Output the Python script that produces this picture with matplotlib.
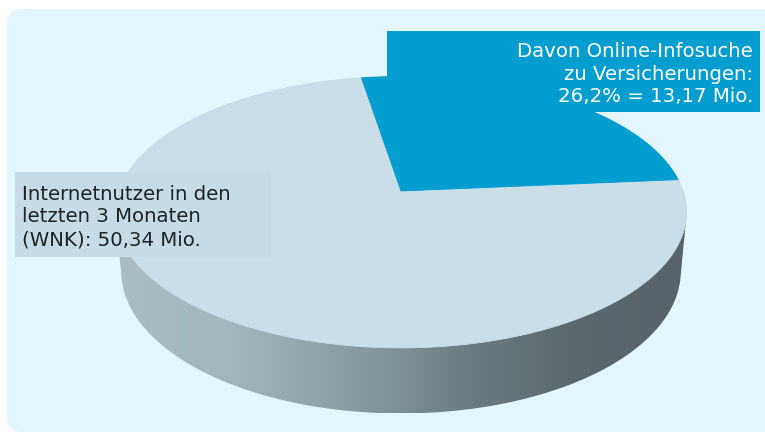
import numpy as np
import matplotlib
matplotlib.use("Agg")
import matplotlib.pyplot as plt
from matplotlib.patches import Polygon, FancyBboxPatch, Rectangle
from matplotlib.colors import LinearSegmentedColormap

# --- data -----------------------------------------------------------------
segment_names = ["Davon Online-Infosuche zu Versicherungen", "Übrige Internetnutzer"]
segment_shares = [26.2, 73.8]          # percent of all internet users
internet_users_mio = 50.34             # users in the last 3 months (WNK)
insurance_search_mio = 13.17           # of which searched insurance info online
segment_colors = ["#039dcf", "#cadee9"]


def de_num(x, digits):
    return f"{x:.{digits}f}".replace(".", ",")


# --- canvas in pixel units ------------------------------------------------
W_PX, H_PX = 765, 435
fig = plt.figure(figsize=(W_PX / 100, H_PX / 100), dpi=100)
ax = fig.add_axes([0, 0, 1, 1])
ax.set_xlim(0, W_PX)
ax.set_ylim(H_PX, 0)
ax.axis("off")
fig.patch.set_facecolor("white")

# light rounded panel
ax.add_patch(FancyBboxPatch((7, 10), 770, 423,
                            boxstyle="round,pad=0,rounding_size=16",
                            facecolor="#e4f6fd", edgecolor="none", zorder=0))

# --- perspective projection of a flat cylinder -----------------------------
cx, cy = 401.0, 192.0        # screen position of the disc centre
dist = 5.65                  # camera distance (disc radii)
elev = np.radians(28.0)      # camera elevation
scale = 1593.0
thick = 0.24                 # disc thickness (radii)


def project(theta, w):
    u, v = np.cos(theta), np.sin(theta)
    depth = dist + v * np.cos(elev) - w * np.sin(elev)
    y = v * np.sin(elev) + w * np.cos(elev)
    return cx + scale * u / depth, cy - scale * y / depth


def convex_hull(pts):
    pts = sorted(map(tuple, pts))

    def cross(o, a, b):
        return (a[0] - o[0]) * (b[1] - o[1]) - (a[1] - o[1]) * (b[0] - o[0])

    lower, upper = [], []
    for p in pts:
        while len(lower) >= 2 and cross(lower[-2], lower[-1], p) <= 0:
            lower.pop()
        lower.append(p)
    for p in reversed(pts):
        while len(upper) >= 2 and cross(upper[-2], upper[-1], p) <= 0:
            upper.pop()
        upper.append(p)
    return np.array(lower[:-1] + upper[:-1])


t = np.linspace(0, 2 * np.pi, 720, endpoint=False)
top_x, top_y = project(t, 0.0)
bot_x, bot_y = project(t, -thick)
hull = convex_hull(np.column_stack([np.r_[top_x, bot_x], np.r_[top_y, bot_y]]))

# side wall with horizontal shading
side_patch = Polygon(hull, closed=True, facecolor="none", edgecolor="none")
ax.add_patch(side_patch)
side_cmap = LinearSegmentedColormap.from_list(
    "side", ["#acbdc5", "#a3b5bd", "#8c9ea5", "#6e7e85", "#5c686e", "#57626a"])
grad = np.linspace(0, 1, 256)[None, :]
img = ax.imshow(grad, cmap=side_cmap, aspect="auto",
                extent=(hull[:, 0].min(), hull[:, 0].max(),
                        hull[:, 1].max(), hull[:, 1].min()),
                zorder=1, interpolation="bilinear")
img.set_clip_path(side_patch)

# top face: wedges from the shares
start_deg = 5.0
angles = np.radians(start_deg + 3.6 * np.cumsum([0] + segment_shares))
for i in [1, 0]:
    tt = np.linspace(angles[i], angles[i + 1], 400)
    ex, ey = project(tt, 0.0)
    verts = np.column_stack([np.r_[cx, ex], np.r_[cy, ey]])
    ax.add_patch(Polygon(verts, closed=True, facecolor=segment_colors[i],
                         edgecolor=segment_colors[i], linewidth=0.6, zorder=2))

# --- labels ---------------------------------------------------------------
ax.add_patch(Rectangle((387, 32), 373, 81, facecolor=segment_colors[0],
                       edgecolor="none", zorder=3))
blue_text = ("Davon Online-Infosuche\nzu Versicherungen:\n"
             f"{de_num(segment_shares[0], 1)}% = {de_num(insurance_search_mio, 2)} Mio.")
ax.text(753, 74, blue_text, ha="right", va="center", color="white",
        fontsize=14.2, family="DejaVu Sans", linespacing=1.22, zorder=4)

ax.add_patch(Rectangle((15, 173), 256, 85, facecolor="#c6dbe5",
                       edgecolor="none", zorder=3))
grey_text = ("Internetnutzer in den\nletzten 3 Monaten\n"
             f"(WNK): {de_num(internet_users_mio, 2)} Mio.")
ax.text(22, 217, grey_text, ha="left", va="center", color="#1e2326",
        fontsize=14.2, family="DejaVu Sans", linespacing=1.24, zorder=4)

fig.savefig("out.png", dpi=100)
